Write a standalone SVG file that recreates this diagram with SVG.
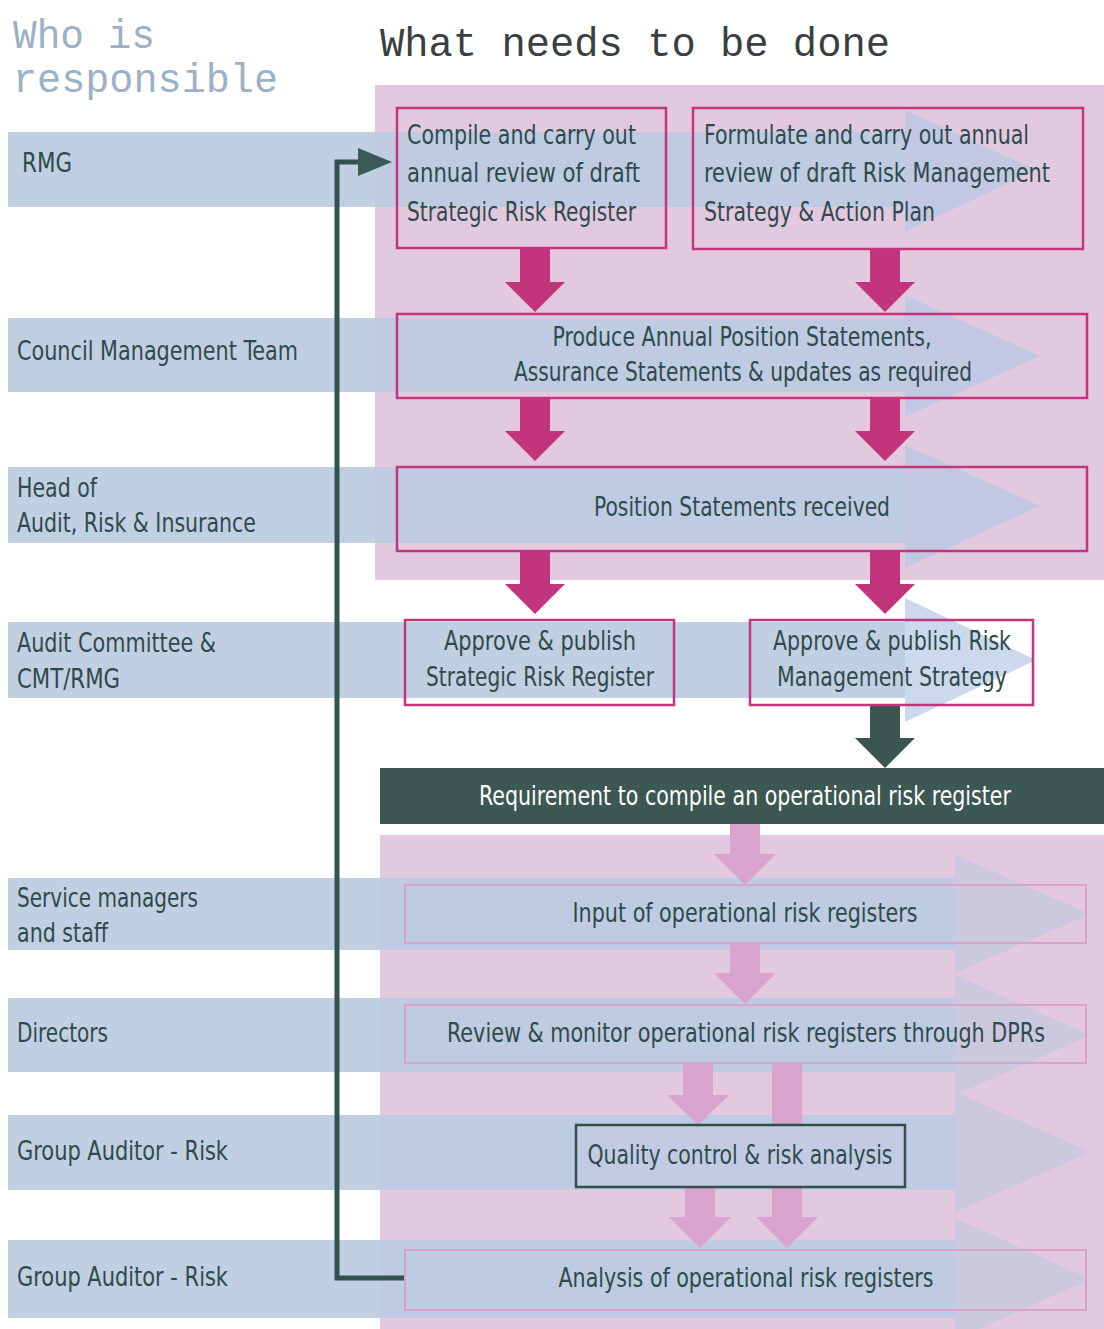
<svg xmlns="http://www.w3.org/2000/svg" width="1104" height="1329" viewBox="0 0 1104 1329">
<style>
.hdr1{font-family:"Liberation Mono",monospace;font-size:40px;fill:#9cb0c6}
.hdr2{font-family:"Liberation Mono",monospace;font-size:40px;fill:#3a3f42}
.lane{fill:#bccbe1;opacity:0.92}
.tip{fill:#b6c8e2;opacity:0.7}
.tipL{fill:#b6c8e2;opacity:0.5}
.lbl{font-family:"Liberation Sans Narrow","DejaVu Sans Condensed","Liberation Sans",sans-serif;font-size:27px;fill:#2e4a4c}
.txt{font-family:"Liberation Sans Narrow","DejaVu Sans Condensed","Liberation Sans",sans-serif;font-size:27px;fill:#2e4a4c}
.ctr{text-anchor:middle}
.boxM{fill:none;stroke:#c3357c;stroke-width:2.5}
.boxL{fill:none;stroke:#d9a2c9;stroke-width:2}
.boxD{fill:#c2cbe2;stroke:#2f4f4c;stroke-width:2.5}
.arM{fill:#c2357c}
.arL{fill:#d8a3cd}
.arD{fill:#3b5550}
.panel{fill:#e2c9df}
</style>
<rect width="1104" height="1329" fill="#ffffff"/>
<g id="headers">
<text class="hdr1" x="13" y="48" textLength="142" lengthAdjust="spacingAndGlyphs">Who is</text>
<text class="hdr1" x="13" y="92" textLength="265" lengthAdjust="spacingAndGlyphs">responsible</text>
<text class="hdr2" x="380" y="56" textLength="510" lengthAdjust="spacingAndGlyphs">What needs to be done</text>
</g>
<g id="panels">
<rect class="panel" x="375" y="85" width="729" height="495"/>
<rect class="panel" x="380" y="835" width="724" height="494"/>
</g>
<g id="lanes">
<rect class="lane" x="8" y="132" width="897" height="75"/>
<polygon class="tip" points="905,110 1036,170 905,232"/>
<rect class="lane" x="8" y="318" width="897" height="74"/>
<polygon class="tip" points="905,295 1040,356 905,417"/>
<rect class="lane" x="8" y="467" width="897" height="76"/>
<polygon class="tip" points="905,445 1040,506 905,568"/>
<rect class="lane" x="8" y="622" width="897" height="76"/>
<polygon class="tip" points="905,598 1036,660 905,722"/>
<rect class="lane" x="8" y="878" width="947" height="72"/>
<polygon class="tipL" points="955,855 1090,914 955,973"/>
<rect class="lane" x="8" y="998" width="947" height="74"/>
<polygon class="tipL" points="955,975 1090,1035 955,1095"/>
<rect class="lane" x="8" y="1115" width="947" height="75"/>
<polygon class="tipL" points="955,1092 1090,1152 955,1212"/>
<rect class="lane" x="8" y="1240" width="947" height="78"/>
<polygon class="tipL" points="955,1218 1090,1279 955,1340"/>
</g>
<g id="lane-labels">
<text class="lbl" x="22" y="172" textLength="50" lengthAdjust="spacingAndGlyphs">RMG</text>
<text class="lbl" x="17" y="360" textLength="281" lengthAdjust="spacingAndGlyphs">Council Management Team</text>
<text class="lbl" x="17" y="497" textLength="80" lengthAdjust="spacingAndGlyphs">Head of</text>
<text class="lbl" x="17" y="532" textLength="239" lengthAdjust="spacingAndGlyphs">Audit, Risk &amp; Insurance</text>
<text class="lbl" x="17" y="652" textLength="199" lengthAdjust="spacingAndGlyphs">Audit Committee &amp;</text>
<text class="lbl" x="17" y="688" textLength="103" lengthAdjust="spacingAndGlyphs">CMT/RMG</text>
<text class="lbl" x="17" y="907" textLength="181" lengthAdjust="spacingAndGlyphs">Service managers</text>
<text class="lbl" x="17" y="942" textLength="91" lengthAdjust="spacingAndGlyphs">and staff</text>
<text class="lbl" x="17" y="1042" textLength="91" lengthAdjust="spacingAndGlyphs">Directors</text>
<text class="lbl" x="17" y="1160" textLength="211" lengthAdjust="spacingAndGlyphs">Group Auditor - Risk</text>
<text class="lbl" x="17" y="1286" textLength="211" lengthAdjust="spacingAndGlyphs">Group Auditor - Risk</text>
</g>
<g id="connectors">
<polygon class="arM" points="520,249 550,249 550,282 565,282 535,312 505,282 520,282"/>
<polygon class="arM" points="870,249 900,249 900,282 915,282 885,312 855,282 870,282"/>
<polygon class="arM" points="520,398 550,398 550,431 565,431 535,461 505,431 520,431"/>
<polygon class="arM" points="870,398 900,398 900,431 915,431 885,461 855,431 870,431"/>
<polygon class="arM" points="520,551 550,551 550,584 565,584 535,614 505,584 520,584"/>
<polygon class="arM" points="870,551 900,551 900,584 915,584 885,614 855,584 870,584"/>
<polygon class="arD" points="870,705 900,705 900,738 915,738 885,768 855,738 870,738"/>
<polygon class="arL" points="730,824 760,824 760,854 776,854 745,885 714,854 730,854"/>
<polygon class="arL" points="730,943 760,943 760,973 776,973 745,1004 714,973 730,973"/>
<polygon class="arL" points="683,1063 713,1063 713,1095 729,1095 698,1125 667,1095 683,1095"/>
<polygon class="arL" points="772,1063 802,1063 802,1217 818,1217 787,1248 756,1217 772,1217"/>
<polygon class="arL" points="685,1187 715,1187 715,1217 731,1217 700,1248 669,1217 685,1217"/>
<path d="M405,1278 H337 V162 H362" fill="none" stroke="#33524f" stroke-width="5"/>
<polygon points="358,148 392,162 358,176" fill="#3a5a58"/>
</g>
<g id="n1">
<rect class="boxM" x="397" y="108" width="269" height="140"/>
<text class="txt" x="407" y="144" textLength="229" lengthAdjust="spacingAndGlyphs">Compile and carry out</text>
<text class="txt" x="407" y="182" textLength="233" lengthAdjust="spacingAndGlyphs">annual review of draft</text>
<text class="txt" x="407" y="221" textLength="229" lengthAdjust="spacingAndGlyphs">Strategic Risk Register</text>
</g>
<g id="n2">
<rect class="boxM" x="693" y="108" width="390" height="141"/>
<text class="txt" x="704" y="144" textLength="325" lengthAdjust="spacingAndGlyphs">Formulate and carry out annual</text>
<text class="txt" x="704" y="182" textLength="346" lengthAdjust="spacingAndGlyphs">review of draft Risk Management</text>
<text class="txt" x="704" y="221" textLength="231" lengthAdjust="spacingAndGlyphs">Strategy &amp; Action Plan</text>
</g>
<g id="n3">
<rect class="boxM" x="397" y="314" width="690" height="84"/>
<text class="txt ctr" x="742" y="346" textLength="379" lengthAdjust="spacingAndGlyphs">Produce Annual Position Statements,</text>
<text class="txt ctr" x="743" y="381" textLength="458" lengthAdjust="spacingAndGlyphs">Assurance Statements &amp; updates as required</text>
</g>
<g id="n4">
<rect class="boxM" x="397" y="467" width="690" height="84"/>
<text class="txt ctr" x="742" y="516" textLength="296" lengthAdjust="spacingAndGlyphs">Position Statements received</text>
</g>
<g id="n5">
<rect class="boxM" x="405" y="620" width="269" height="85"/>
<text class="txt ctr" x="540" y="650" textLength="192" lengthAdjust="spacingAndGlyphs">Approve &amp; publish</text>
<text class="txt ctr" x="540" y="686" textLength="228" lengthAdjust="spacingAndGlyphs">Strategic Risk Register</text>
</g>
<g id="n6">
<rect class="boxM" x="750" y="620" width="283" height="85"/>
<text class="txt ctr" x="892" y="650" textLength="238" lengthAdjust="spacingAndGlyphs">Approve &amp; publish Risk</text>
<text class="txt ctr" x="892" y="686" textLength="230" lengthAdjust="spacingAndGlyphs">Management Strategy</text>
</g>
<g id="n7">
<rect x="380" y="768" width="724" height="56" fill="#3d5752"/>
<text class="txt ctr" x="745" y="805" style="fill:#ffffff" textLength="532" lengthAdjust="spacingAndGlyphs">Requirement to compile an operational risk register</text>
</g>
<g id="n8">
<rect class="boxL" x="405" y="885" width="681" height="58"/>
<text class="txt ctr" x="745" y="922" textLength="345" lengthAdjust="spacingAndGlyphs">Input of operational risk registers</text>
</g>
<g id="n9">
<rect class="boxL" x="405" y="1005" width="681" height="58"/>
<text class="txt ctr" x="746" y="1042" textLength="598" lengthAdjust="spacingAndGlyphs">Review &amp; monitor operational risk registers through DPRs</text>
</g>
<g id="n10">
<rect class="boxD" x="576" y="1125" width="329" height="62"/>
<text class="txt ctr" x="740" y="1164" textLength="305" lengthAdjust="spacingAndGlyphs">Quality control &amp; risk analysis</text>
</g>
<g id="n11">
<rect class="boxL" x="405" y="1250" width="681" height="60"/>
<text class="txt ctr" x="746" y="1287" textLength="375" lengthAdjust="spacingAndGlyphs">Analysis of operational risk registers</text>
</g>
</svg>
